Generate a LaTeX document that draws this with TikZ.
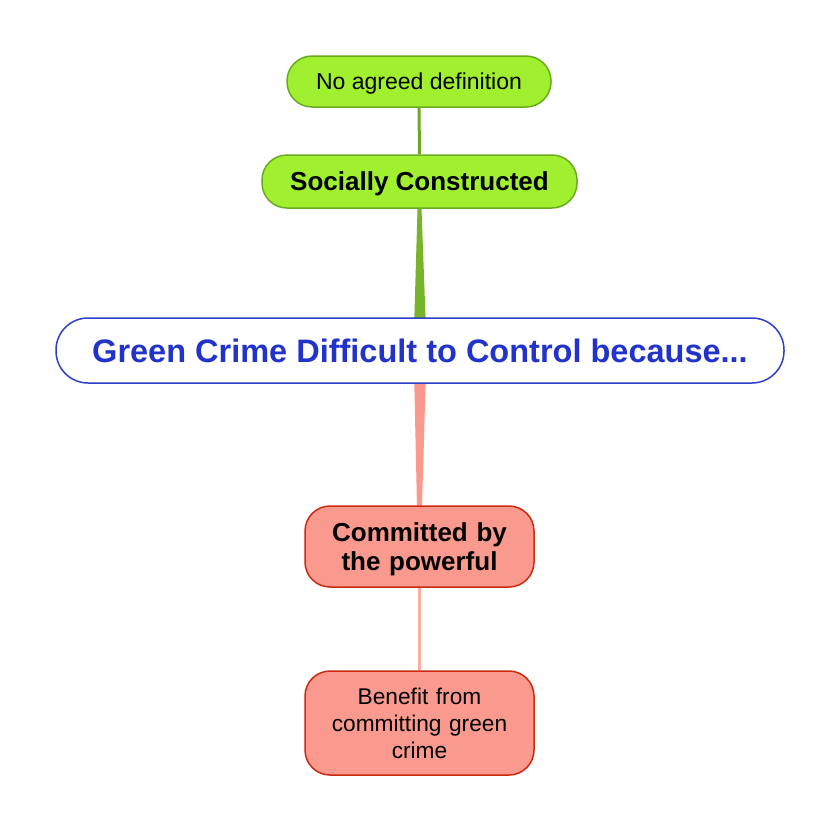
\documentclass[tikz,border=0pt]{standalone}
\usepackage{fontspec}
\setmainfont{Liberation Sans}
\definecolor{gfill}{HTML}{A0F030}
\definecolor{gline}{HTML}{6AAA20}
\definecolor{gwedge}{HTML}{78B42A}
\definecolor{rfill}{HTML}{FA9A8E}
\definecolor{rline}{HTML}{CC2A10}
\definecolor{rwedge}{HTML}{FA9A8E}
\definecolor{bline}{HTML}{2A3FCC}
\definecolor{btext}{HTML}{2233CC}
\begin{document}
\begin{tikzpicture}[x=1pt,y=-1pt,
  greennode/.style={draw=gline,fill=gfill,line width=1.5pt,rounded corners=25pt,align=center,inner sep=0pt},
  rednode/.style={draw=rline,fill=rfill,line width=1.5pt,rounded corners=25pt,align=center,inner sep=0pt,text width=229pt},
  mainnode/.style={draw=bline,fill=white,line width=1.5pt,rounded corners=32pt,align=center,inner sep=0pt,text=btext,font=\fontsize{32.5}{38}\selectfont\bfseries}]
\useasboundingbox (0,0) rectangle (840,833);
\fill[white] (0,0) rectangle (840,833);
% nodes
\node[greennode,minimum width=264pt,minimum height=51pt,text height=20.8pt,font=\fontsize{23}{27}\selectfont] (nad) at (419,81.5) {No agreed definition};
\node[greennode,minimum width=315pt,minimum height=53pt,text height=23pt,font=\fontsize{26}{30}\selectfont\bfseries] (sc) at (419.5,181.5) {Socially Constructed};
\node[rednode,minimum height=104pt,font=\fontsize{22.7}{27}\selectfont] (ben) at (419.5,723) {Benefit from\\committing green\\crime};
% connectors behind main
\draw[gline,line width=3pt] (nad.south) -- (sc.north);
\draw[rwedge!80,line width=3pt] (419.5,587) -- (ben.north);
\fill[gwedge] ([xshift=-2pt]sc.south) -- ([xshift=2pt]sc.south) -- (426,330) -- (414,330) -- cycle;
\fill[rwedge] (414,370) -- (426,370) -- (422,507) -- (417,507) -- cycle;
\node[mainnode,minimum width=728pt,minimum height=65pt] (main) at (420,350.5) {Green Crime Difficult to Control because...};
\node[rednode,minimum height=81pt,font=\fontsize{26}{29}\selectfont\bfseries] (com) at (419.5,546.5) {\rule{0pt}{25pt}Committed by\\the powerful};
\end{tikzpicture}
\end{document}
